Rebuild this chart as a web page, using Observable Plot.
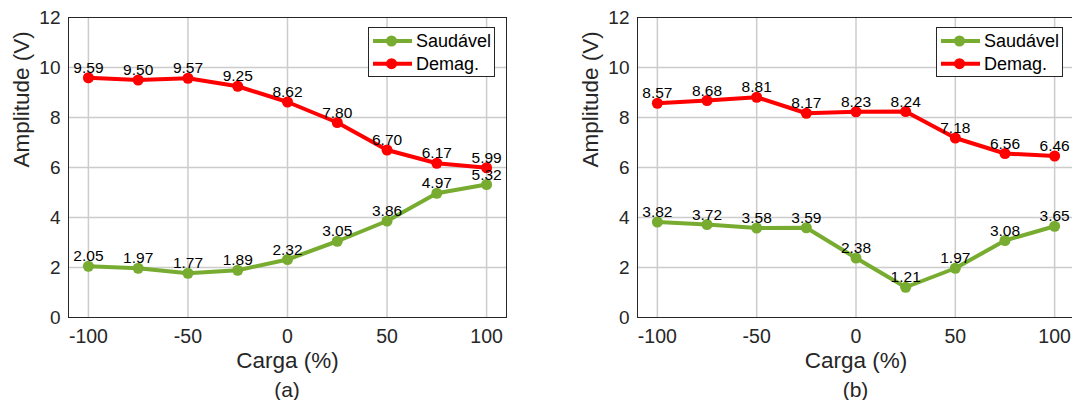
<!DOCTYPE html>
<html>
<head>
<meta charset="utf-8">
<script src="https://cdn.jsdelivr.net/npm/d3@7"></script>
<script src="https://cdn.jsdelivr.net/npm/@observablehq/plot@0.6"></script>
<style>
html, body { margin: 0; padding: 0; background: #fff; }
body { width: 1072px; height: 400px; overflow: hidden; font-family: "Liberation Sans", Arial, sans-serif; color: #262626; }
#wrap { display: flex; width: 1072px; height: 400px; overflow: hidden; }
.panel { position: relative; flex: 0 0 568px; width: 568px; height: 400px; }
.panel svg.chart { display: block; }
.cap { position: absolute; top: 379px; width: 80px; text-align: center; font-size: 21px; line-height: 22px; color: #262626; }
.legend { position: absolute; top: 27px; left: 368px; width: 127px; height: 50px; box-sizing: border-box; border: 1px solid #262626; background: #fff; }
.legend svg { display: block; position: absolute; left: -1px; top: -1px; }
</style>
</head>
<body>
<div id="wrap"></div>
<script>
// ---- data ----
const carga = [-100, -75, -50, -25, 0, 25, 50, 75, 100];
const saudavelA = [2.05, 1.97, 1.77, 1.89, 2.32, 3.05, 3.86, 4.97, 5.32];
const demagA    = [9.59, 9.50, 9.57, 9.25, 8.62, 7.80, 6.70, 6.17, 5.99];
const saudavelB = [3.82, 3.72, 3.58, 3.59, 2.38, 1.21, 1.97, 3.08, 3.65];
const demagB    = [8.57, 8.68, 8.81, 8.17, 8.23, 8.24, 7.18, 6.56, 6.46];
const seriesNames = ["Saudável", "Demag."];
const seriesColors = ["#77AC30", "#FF0000"];
const panelLabels = ["(a)", "(b)"];
const xTicks = [-100, -50, 0, 50, 100];
const yTicks = [0, 2, 4, 6, 8, 10, 12];
const xLabel = "Carga (%)";
const yLabel = "Amplitude (V)";

const FONT = '"Liberation Sans", Arial, sans-serif';

function makePanel(sVals, dVals, marginLeft) {
  const rows = [];
  [sVals, dVals].forEach((vals, si) => {
    carga.forEach((c, i) => rows.push({carga: c, amp: vals[i], series: seriesNames[si]}));
  });
  return Plot.plot({
    width: 568,
    height: 378,
    marginLeft,
    marginRight: 62,
    marginTop: 17,
    marginBottom: 61,
    style: {fontFamily: FONT, background: "transparent", color: "#262626", overflow: "visible"},
    x: {domain: [-110, 110]},
    y: {domain: [0, 12]},
    color: {domain: seriesNames, range: seriesColors},
    marks: [
      Plot.gridX(xTicks, {stroke: "#cccccc", strokeOpacity: 1, strokeWidth: 1.5}),
      Plot.gridY(yTicks.slice(1, -1), {stroke: "#cccccc", strokeOpacity: 1, strokeWidth: 1.5}),
      Plot.axisX(xTicks, {tickSize: 0, tickPadding: 12, fontSize: 19.5, tickFormat: d => String(d), label: null}),
      Plot.axisY(yTicks, {tickSize: 0, tickPadding: 8, fontSize: 19, tickFormat: d => String(d), label: null}),
      Plot.line(rows, {x: "carga", y: "amp", z: "series", stroke: "series", strokeWidth: 4, strokeLinejoin: "round", strokeLinecap: "round"}),
      Plot.dot(rows, {x: "carga", y: "amp", fill: "series", r: 5.5}),
      Plot.text(rows, {x: "carga", y: "amp", text: d => d.amp.toFixed(2), lineAnchor: "bottom", dy: -5, fontSize: 15.5, fill: "#000"}),
      Plot.frame({stroke: "#262626"}),
      Plot.text([xLabel], {frameAnchor: "bottom", dy: 50, fontSize: 22.5, fill: "#262626"}),
      Plot.text([yLabel], {frameAnchor: "left", rotate: -90, dx: -47, fontSize: 22.5, fill: "#262626"})
    ]
  });
}

function makeLegend() {
  const div = document.createElement("div");
  div.className = "legend";
  const ns = "http://www.w3.org/2000/svg";
  const svg = document.createElementNS(ns, "svg");
  svg.setAttribute("width", 127);
  svg.setAttribute("height", 50);
  const rowsY = [14, 36.7];
  seriesNames.forEach((name, i) => {
    const y = rowsY[i];
    const line = document.createElementNS(ns, "line");
    line.setAttribute("x1", 5); line.setAttribute("x2", 44);
    line.setAttribute("y1", y); line.setAttribute("y2", y);
    line.setAttribute("stroke", seriesColors[i]); line.setAttribute("stroke-width", 4);
    svg.appendChild(line);
    const c = document.createElementNS(ns, "circle");
    c.setAttribute("cx", 23.5); c.setAttribute("cy", y); c.setAttribute("r", 5.5);
    c.setAttribute("fill", seriesColors[i]);
    svg.appendChild(c);
    const t = document.createElementNS(ns, "text");
    t.setAttribute("x", 48); t.setAttribute("y", y);
    t.setAttribute("dy", "0.35em");
    t.setAttribute("font-size", 18);
    t.setAttribute("font-family", FONT);
    t.setAttribute("fill", "#000");
    t.textContent = name;
    svg.appendChild(t);
  });
  div.appendChild(svg);
  return div;
}

const wrap = document.getElementById("wrap");
const configs = [
  {s: saudavelA, d: demagA, ml: 68},
  {s: saudavelB, d: demagB, ml: 69}
];
configs.forEach((cfg, i) => {
  const panel = document.createElement("div");
  panel.className = "panel";
  const chart = makePanel(cfg.s, cfg.d, cfg.ml);
  chart.classList.add("chart");
  panel.appendChild(chart);
  panel.appendChild(makeLegend());
  const cap = document.createElement("div");
  cap.className = "cap";
  const cx = (cfg.ml + (568 - 62)) / 2;
  cap.style.left = (cx - 40) + "px";
  cap.textContent = panelLabels[i];
  panel.appendChild(cap);
  wrap.appendChild(panel);
});
</script>
</body>
</html>
